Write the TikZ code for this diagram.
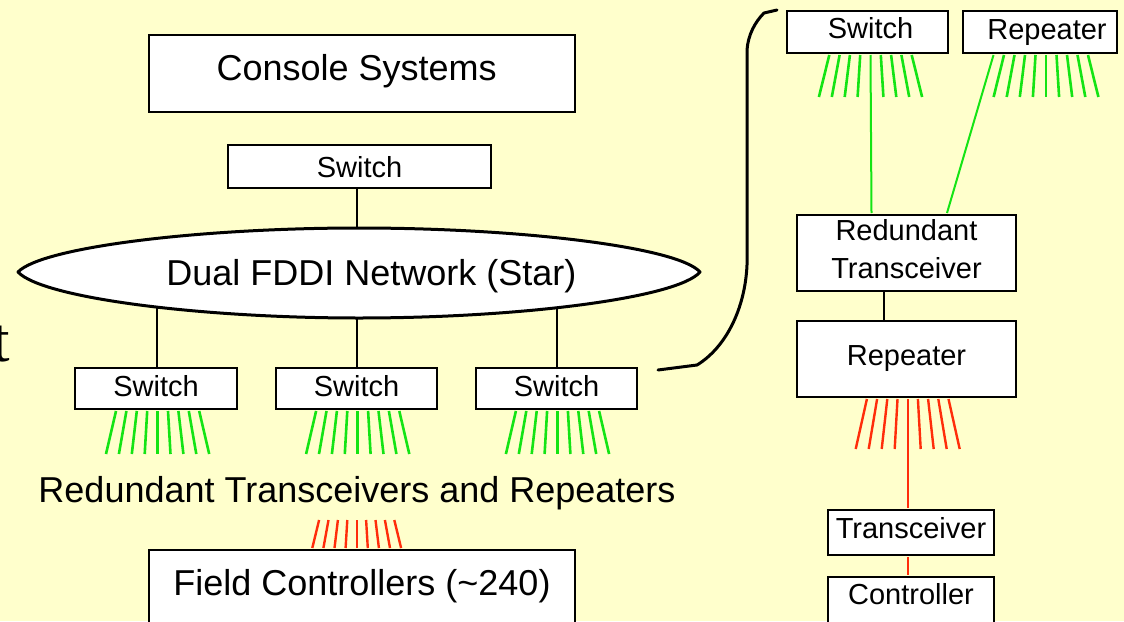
\documentclass[tikz,border=0pt]{standalone}
\usepackage{fontspec}
\setmainfont{Liberation Sans}
\newfontfamily\slideserif{Liberation Serif}
\definecolor{bg}{RGB}{255,255,204}
\definecolor{lgreen}{RGB}{20,228,20}
\definecolor{lred}{RGB}{255,45,10}
\tikzset{
  bx/.style={draw=black, line width=2pt, fill=white, inner xsep=0pt, anchor=north},
  bigtxt/.style={font=\fontsize{36}{40}\selectfont},
  smtxt/.style={font=\fontsize{29}{38}\selectfont},
  gline/.style={draw=lgreen, line width=2.6pt},
  rline/.style={draw=lred, line width=2.4pt},
  conn/.style={draw=black, line width=1.6pt},
}
\begin{document}
\begin{tikzpicture}[x=1pt, y=-1pt]
\useasboundingbox (0,0) rectangle (1124,621);
\clip (0,0) rectangle (1124,621);
\fill[bg] (0,0) rectangle (1124,621);

% partial slide text
\node[font=\slideserif\fontsize{63}{70}\selectfont, anchor=base west, inner sep=0pt] (tfrag) at (-8,361) {t};

% left column boxes
\node[bx, bigtxt, minimum width=426pt, inner ysep=19.3pt, text height=26pt, text depth=12.4pt] (console) at (362,34) {Console Systems\hspace*{10.6pt}};
\node[bx, smtxt, minimum width=263pt, inner ysep=11pt, text height=21pt, text depth=0pt] (sw0) at (359.5,144) {Switch};

% FDDI network
\coordinate (nt) at (357,229);
\coordinate (nb1) at (157,307);
\coordinate (nb2) at (357,318);
\coordinate (nb3) at (557,307);
\draw[conn] (sw0.south -| nt) -- (nt);
\draw[fill=white, line width=3pt, line join=round]
  (18,272) .. controls (42,247) and (200,228) .. (359,228)
  .. controls (520,228) and (678,247) .. (700,272)
  .. controls (678,298) and (520,318) .. (359,318)
  .. controls (200,318) and (42,298) .. (18,272) -- cycle;
\node[bigtxt, anchor=base, inner sep=0pt] (netlabel) at (371.5,285) {Dual FDDI Network (Star)};

\node[bx, smtxt, minimum width=162pt, inner ysep=7.5pt, text height=21pt, text depth=5pt] (sw1) at (156,367) {Switch};
\node[bx, smtxt, minimum width=161pt, inner ysep=7.5pt, text height=21pt, text depth=5pt] (sw2) at (356.5,367) {Switch};
\node[bx, smtxt, minimum width=161pt, inner ysep=7.5pt, text height=21pt, text depth=5pt] (sw3) at (556.5,367) {Switch};
\draw[conn] (nb1) -- (sw1.north -| nb1);
\draw[conn] (nb2) -- (sw2.north -| nb2);
\draw[conn] (nb3) -- (sw3.north -| nb3);

\foreach \s/\o in {sw1/1.6, sw2/1.2, sw3/1.0}{
  \foreach \i in {-4,...,4}{
    \draw[gline] ([xshift={(\o+10.4*\i)*1pt}, yshift=-1pt]\s.south) -- ++({2.5*\i},43);
  }
}

\node[bigtxt, anchor=base, inner sep=0pt] (rtlabel) at (357,502) {Redundant Transceivers and Repeaters};

\node[bx, bigtxt, minimum width=426pt, inner ysep=19.3pt, text height=26pt, text depth=40pt] (fc) at (362,549) {Field Controllers (\char`\~240)};
\foreach \i in {-4,...,4}{
  \draw[rline] ([xshift={(-5.3+11.1*\i)*1pt}, yshift=1pt]fc.north) -- ++({-1.7*\i},-28);
}

% bracket
\coordinate (br1) at (658,370);
\coordinate (br2) at (777,10);
\draw[line width=3pt, line cap=round, line join=round]
  (br1) -- (697,365) .. controls (725,348) and (745,310) .. (747,265)
  -- (747,50) .. controls (748,35) and (755,22) .. (764,13) -- (br2);

% right column
\node[bx, smtxt, minimum width=161pt, inner ysep=6pt, text height=21pt, text depth=9pt] (rsw) at (867.5,10) {\hspace*{6pt}Switch};
\node[bx, smtxt, minimum width=154pt, inner ysep=7pt, text height=21pt, text depth=7pt] (rrep) at (1040,10) {\hspace*{14pt}Repeater};
\node[bx, smtxt, minimum width=219pt, minimum height=76pt, inner ysep=0pt, align=center] (rt) at (906.5,214) {Redundant\\Transceiver\rule[-9pt]{0pt}{9pt}};
\node[bx, smtxt, minimum width=219pt, inner ysep=23pt, text height=21pt, text depth=9pt] (rep) at (906.5,320) {Repeater};
\node[bx, smtxt, minimum width=166pt, inner ysep=7.7pt, text height=21pt, text depth=8.6pt] (tr) at (911,509) {Transceiver};
\node[bx, smtxt, minimum width=166pt, inner ysep=6.7pt, text height=21pt, text depth=40pt] (ctrl) at (911,576) {Controller};

\foreach \i in {-4,-3,-2,-1,1,2,3,4}{
  \draw[gline] ([xshift={(3+10.3*\i)*1pt}, yshift=-1pt]rsw.south) -- ++({2.6*\i},42);
}
\foreach \i in {-4,...,4}{
  \draw[gline] ([xshift={(6+10.5*\i)*1pt}, yshift=-1pt]rrep.south) -- ++({2.6*\i},42);
}
\draw[gline, line width=2pt] ([xshift=3pt, yshift=-1pt]rsw.south) -- ([xshift=-35pt, yshift=1pt]rt.north);
\draw[gline, line width=2pt] ([xshift=-46.5pt, yshift=-1pt]rrep.south) -- ([xshift=40.5pt, yshift=1pt]rt.north);
\draw[conn] ([xshift=-22.5pt]rt.south) -- ([xshift=-22.5pt]rep.north);

\foreach \i in {-4,-3,-2,-1,1,2,3,4}{
  \draw[rline] ([xshift={(1.2+10.2*\i)*1pt}, yshift=-1pt]rep.south) -- ++({2.8*\i},50);
}
\draw[rline, line width=2pt] ([xshift=1.2pt, yshift=-1pt]rep.south) -- ([xshift=-3.3pt, yshift=1pt]tr.north);
\draw[rline, line width=2pt] ([xshift=-3pt, yshift=-1pt]tr.south) -- ([xshift=-3pt, yshift=1pt]ctrl.north);
\end{tikzpicture}
\end{document}
